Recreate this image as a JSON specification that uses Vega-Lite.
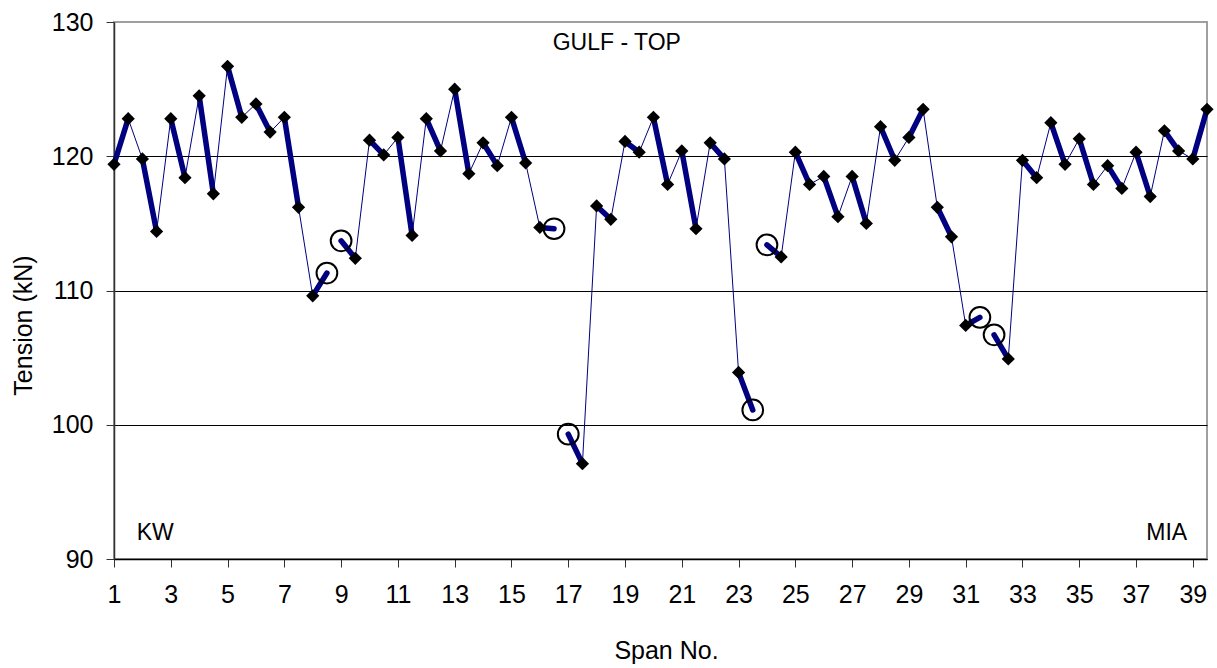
{
  "$schema": "https://vega.github.io/schema/vega-lite/v6.json",
  "width": 1093,
  "height": 537,
  "autosize": {"type": "none"},
  "padding": {"left": 114, "top": 22, "right": 10, "bottom": 109},
  "background": "white",
  "config": {
    "font": "Liberation Sans",
    "view": {"stroke": "#a0a0a0", "strokeWidth": 2},
    "axis": {"labelColor": "black", "titleColor": "black", "titleFontWeight": "normal", "labelFont": "Liberation Sans", "titleFont": "Liberation Sans"}
  },
  "datasets": {
    "spans": [
      {"span": 1, "x": 1, "t": 119.4, "m": "d", "run": 1},
      {"span": 1, "x": 1.5, "t": 122.8, "m": "d", "run": 1},
      {"span": 2, "x": 2, "t": 119.8, "m": "d", "run": 1},
      {"span": 2, "x": 2.5, "t": 114.4, "m": "d", "run": 1},
      {"span": 3, "x": 3, "t": 122.8, "m": "d", "run": 1},
      {"span": 3, "x": 3.5, "t": 118.4, "m": "d", "run": 1},
      {"span": 4, "x": 4, "t": 124.5, "m": "d", "run": 1},
      {"span": 4, "x": 4.5, "t": 117.2, "m": "d", "run": 1},
      {"span": 5, "x": 5, "t": 126.7, "m": "d", "run": 1},
      {"span": 5, "x": 5.5, "t": 122.9, "m": "d", "run": 1},
      {"span": 6, "x": 6, "t": 123.9, "m": "d", "run": 1},
      {"span": 6, "x": 6.5, "t": 121.8, "m": "d", "run": 1},
      {"span": 7, "x": 7, "t": 122.9, "m": "d", "run": 1},
      {"span": 7, "x": 7.5, "t": 116.2, "m": "d", "run": 1},
      {"span": 8, "x": 8, "t": 109.6, "m": "d", "run": 1},
      {"span": 8, "x": 8.5, "t": 111.3, "m": "c", "run": 0},
      {"span": 9, "x": 9, "t": 113.7, "m": "c", "run": 0},
      {"span": 9, "x": 9.5, "t": 112.4, "m": "d", "run": 2},
      {"span": 10, "x": 10, "t": 121.2, "m": "d", "run": 2},
      {"span": 10, "x": 10.5, "t": 120.1, "m": "d", "run": 2},
      {"span": 11, "x": 11, "t": 121.4, "m": "d", "run": 2},
      {"span": 11, "x": 11.5, "t": 114.1, "m": "d", "run": 2},
      {"span": 12, "x": 12, "t": 122.8, "m": "d", "run": 2},
      {"span": 12, "x": 12.5, "t": 120.4, "m": "d", "run": 2},
      {"span": 13, "x": 13, "t": 125.0, "m": "d", "run": 2},
      {"span": 13, "x": 13.5, "t": 118.7, "m": "d", "run": 2},
      {"span": 14, "x": 14, "t": 121.0, "m": "d", "run": 2},
      {"span": 14, "x": 14.5, "t": 119.3, "m": "d", "run": 2},
      {"span": 15, "x": 15, "t": 122.9, "m": "d", "run": 2},
      {"span": 15, "x": 15.5, "t": 119.5, "m": "d", "run": 2},
      {"span": 16, "x": 16, "t": 114.7, "m": "d", "run": 2},
      {"span": 16, "x": 16.5, "t": 114.6, "m": "c", "run": 0},
      {"span": 17, "x": 17, "t": 99.3, "m": "c", "run": 0},
      {"span": 17, "x": 17.5, "t": 97.1, "m": "d", "run": 3},
      {"span": 18, "x": 18, "t": 116.3, "m": "d", "run": 3},
      {"span": 18, "x": 18.5, "t": 115.3, "m": "d", "run": 3},
      {"span": 19, "x": 19, "t": 121.1, "m": "d", "run": 3},
      {"span": 19, "x": 19.5, "t": 120.3, "m": "d", "run": 3},
      {"span": 20, "x": 20, "t": 122.9, "m": "d", "run": 3},
      {"span": 20, "x": 20.5, "t": 117.9, "m": "d", "run": 3},
      {"span": 21, "x": 21, "t": 120.4, "m": "d", "run": 3},
      {"span": 21, "x": 21.5, "t": 114.6, "m": "d", "run": 3},
      {"span": 22, "x": 22, "t": 121.0, "m": "d", "run": 3},
      {"span": 22, "x": 22.5, "t": 119.8, "m": "d", "run": 3},
      {"span": 23, "x": 23, "t": 103.9, "m": "d", "run": 3},
      {"span": 23, "x": 23.5, "t": 101.1, "m": "c", "run": 0},
      {"span": 24, "x": 24, "t": 113.4, "m": "c", "run": 0},
      {"span": 24, "x": 24.5, "t": 112.5, "m": "d", "run": 4},
      {"span": 25, "x": 25, "t": 120.3, "m": "d", "run": 4},
      {"span": 25, "x": 25.5, "t": 117.9, "m": "d", "run": 4},
      {"span": 26, "x": 26, "t": 118.5, "m": "d", "run": 4},
      {"span": 26, "x": 26.5, "t": 115.5, "m": "d", "run": 4},
      {"span": 27, "x": 27, "t": 118.5, "m": "d", "run": 4},
      {"span": 27, "x": 27.5, "t": 115.0, "m": "d", "run": 4},
      {"span": 28, "x": 28, "t": 122.2, "m": "d", "run": 4},
      {"span": 28, "x": 28.5, "t": 119.7, "m": "d", "run": 4},
      {"span": 29, "x": 29, "t": 121.4, "m": "d", "run": 4},
      {"span": 29, "x": 29.5, "t": 123.5, "m": "d", "run": 4},
      {"span": 30, "x": 30, "t": 116.2, "m": "d", "run": 4},
      {"span": 30, "x": 30.5, "t": 114.0, "m": "d", "run": 4},
      {"span": 31, "x": 31, "t": 107.4, "m": "d", "run": 4},
      {"span": 31, "x": 31.5, "t": 108.0, "m": "c", "run": 0},
      {"span": 32, "x": 32, "t": 106.7, "m": "c", "run": 0},
      {"span": 32, "x": 32.5, "t": 104.9, "m": "d", "run": 5},
      {"span": 33, "x": 33, "t": 119.7, "m": "d", "run": 5},
      {"span": 33, "x": 33.5, "t": 118.4, "m": "d", "run": 5},
      {"span": 34, "x": 34, "t": 122.5, "m": "d", "run": 5},
      {"span": 34, "x": 34.5, "t": 119.4, "m": "d", "run": 5},
      {"span": 35, "x": 35, "t": 121.3, "m": "d", "run": 5},
      {"span": 35, "x": 35.5, "t": 117.9, "m": "d", "run": 5},
      {"span": 36, "x": 36, "t": 119.3, "m": "d", "run": 5},
      {"span": 36, "x": 36.5, "t": 117.6, "m": "d", "run": 5},
      {"span": 37, "x": 37, "t": 120.3, "m": "d", "run": 5},
      {"span": 37, "x": 37.5, "t": 117.0, "m": "d", "run": 5},
      {"span": 38, "x": 38, "t": 121.9, "m": "d", "run": 5},
      {"span": 38, "x": 38.5, "t": 120.4, "m": "d", "run": 5},
      {"span": 39, "x": 39, "t": 119.8, "m": "d", "run": 5},
      {"span": 39, "x": 39.5, "t": 123.5, "m": "d", "run": 5}
    ],
    "notes": [
      {"label": "GULF - TOP", "x": 18.71, "t": 127.9},
      {"label": "KW", "x": 2.45, "t": 91.45},
      {"label": "MIA", "x": 38.08, "t": 91.45}
    ]
  },
  "data": {"name": "spans"},
  "encoding": {
    "x": {
      "field": "x", "type": "quantitative",
      "scale": {"domain": [1, 39.5], "nice": false, "zero": false},
      "axis": {
        "values": [1, 3, 5, 7, 9, 11, 13, 15, 17, 19, 21, 23, 25, 27, 29, 31, 33, 35, 37, 39],
        "title": "Span No.", "grid": false,
        "domainColor": "black", "domainWidth": 1.5, "tickColor": "#333", "tickSize": 8,
        "labelFontSize": 25, "labelPadding": 15, "labelFlush": false, "labelOverlap": false,
        "titleFontSize": 25, "titleX": 552, "titleY": 99, "titleBaseline": "alphabetic"
      }
    },
    "y": {
      "field": "t", "type": "quantitative",
      "scale": {"domain": [90, 130], "nice": false, "zero": false},
      "axis": {
        "values": [90, 100, 110, 120, 130],
        "title": "Tension (kN)", "grid": true,
        "gridColor": {"condition": {"test": "datum.value == 130", "value": "#a0a0a0"}, "value": "black"},
        "gridWidth": 1,
        "domainColor": "#333", "domainWidth": 1.5, "tickColor": "#333", "tickSize": 8,
        "labelFontSize": 25, "labelPadding": 13, "labelFlush": false,
        "titleFontSize": 25, "titleX": -83, "titleY": 303, "titleBaseline": "alphabetic"
      }
    }
  },
  "layer": [
    {
      "transform": [{"filter": "datum.m == 'd'"}],
      "mark": {"type": "line", "color": "#000080", "strokeWidth": 1},
      "encoding": {"detail": {"field": "run"}}
    },
    {
      "mark": {"type": "line", "color": "#000080", "strokeWidth": 5.5, "strokeCap": "round"},
      "encoding": {"detail": {"field": "span"}}
    },
    {
      "transform": [{"filter": "datum.m == 'd'"}],
      "mark": {"type": "point", "shape": "diamond", "filled": true, "color": "black", "size": 175, "opacity": 1}
    },
    {
      "transform": [{"filter": "datum.m == 'c'"}],
      "mark": {"type": "point", "shape": "circle", "filled": false, "color": "black", "strokeWidth": 2, "size": 430, "opacity": 1}
    },
    {
      "data": {"name": "notes"},
      "mark": {"type": "text", "fontSize": 23, "align": "center", "baseline": "alphabetic", "color": "black"},
      "encoding": {"text": {"field": "label"}}
    }
  ]
}
